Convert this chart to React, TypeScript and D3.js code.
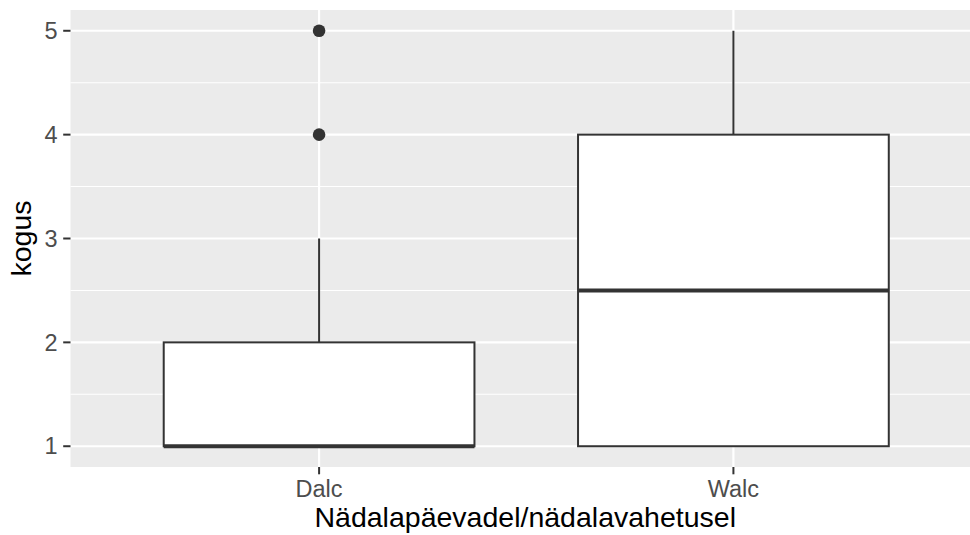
import React from "react";
import * as d3 from "d3";

const categories = ["Dalc", "Walc"];
const lowerWhisker = [1, 1];
const q1 = [1, 1];
const medians = [1, 2.5];
const q3 = [2, 4];
const upperWhisker = [3, 5];
const outliers = [[4, 5], []];
const yTicks = [1, 2, 3, 4, 5];
const yMinor = [1.5, 2.5, 3.5, 4.5];
const xTitle = "Nädalapäevadel/nädalavahetusel";
const yTitle = "kogus";

const W = 970;
const H = 535;
const panel = { left: 70.5, top: 10, right: 982, bottom: 467 };

export default function App() {
  const y = d3.scaleLinear().domain([0.8, 5.2]).range([panel.bottom, panel.top]);
  const x = d3.scaleLinear().domain([0.4, 2.6]).range([panel.left, panel.right]);
  const unit = x(1) - x(0);
  const boxHalf = unit * 0.75 / 2;
  const font = "'Liberation Sans', Arial, Helvetica, sans-serif";
  const dark = "#333333";

  return (
    <svg width={W} height={H} style={{ position: "absolute", left: 0, top: 0 }}>
      <rect x={0} y={0} width={W} height={H} fill="#ffffff" />
      <rect x={panel.left} y={panel.top} width={panel.right - panel.left} height={panel.bottom - panel.top} fill="#EBEBEB" />
      {yMinor.map((v) => (
        <line key={"m" + v} x1={panel.left} x2={panel.right} y1={y(v)} y2={y(v)} stroke="#ffffff" strokeWidth={1.1} />
      ))}
      {yTicks.map((v) => (
        <line key={"g" + v} x1={panel.left} x2={panel.right} y1={y(v)} y2={y(v)} stroke="#ffffff" strokeWidth={2.2} />
      ))}
      {categories.map((c, i) => (
        <line key={"gx" + c} x1={x(i + 1)} x2={x(i + 1)} y1={panel.top} y2={panel.bottom} stroke="#ffffff" strokeWidth={2.2} />
      ))}
      {categories.map((c, i) => {
        const cx = x(i + 1);
        return (
          <g key={c}>
            <line x1={cx} x2={cx} y1={y(q3[i])} y2={y(upperWhisker[i])} stroke={dark} strokeWidth={2} />
            <line x1={cx} x2={cx} y1={y(q1[i])} y2={y(lowerWhisker[i])} stroke={dark} strokeWidth={2} />
            <rect x={cx - boxHalf} y={y(q3[i])} width={boxHalf * 2} height={y(q1[i]) - y(q3[i])} fill="#ffffff" stroke={dark} strokeWidth={2} />
            <line x1={cx - boxHalf} x2={cx + boxHalf} y1={y(medians[i])} y2={y(medians[i])} stroke={dark} strokeWidth={4} />
            {outliers[i].map((o) => (
              <circle key={o} cx={cx} cy={y(o)} r={6.3} fill={dark} />
            ))}
          </g>
        );
      })}
      {yTicks.map((v) => (
        <g key={"t" + v}>
          <line x1={panel.left - 7.3} x2={panel.left} y1={y(v)} y2={y(v)} stroke={dark} strokeWidth={2} />
          <text x={panel.left - 13} y={y(v)} dy="0.35em" textAnchor="end" fontFamily={font} fontSize={23.5} fill="#4D4D4D">
            {v}
          </text>
        </g>
      ))}
      {categories.map((c, i) => (
        <g key={"tx" + c}>
          <line x1={x(i + 1)} x2={x(i + 1)} y1={panel.bottom} y2={panel.bottom + 7.3} stroke={dark} strokeWidth={2} />
          <text x={x(i + 1)} y={497} textAnchor="middle" fontFamily={font} fontSize={23.5} fill="#4D4D4D">
            {c}
          </text>
        </g>
      ))}
      <text x={(panel.left + 970) / 2 + 5} y={527} textAnchor="middle" fontFamily={font} fontSize={28.5} fill="#000000">
        {xTitle}
      </text>
      <text transform={`translate(31,${(panel.top + panel.bottom) / 2}) rotate(-90)`} textAnchor="middle" fontFamily={font} fontSize={28.5} fill="#000000">
        {yTitle}
      </text>
    </svg>
  );
}
